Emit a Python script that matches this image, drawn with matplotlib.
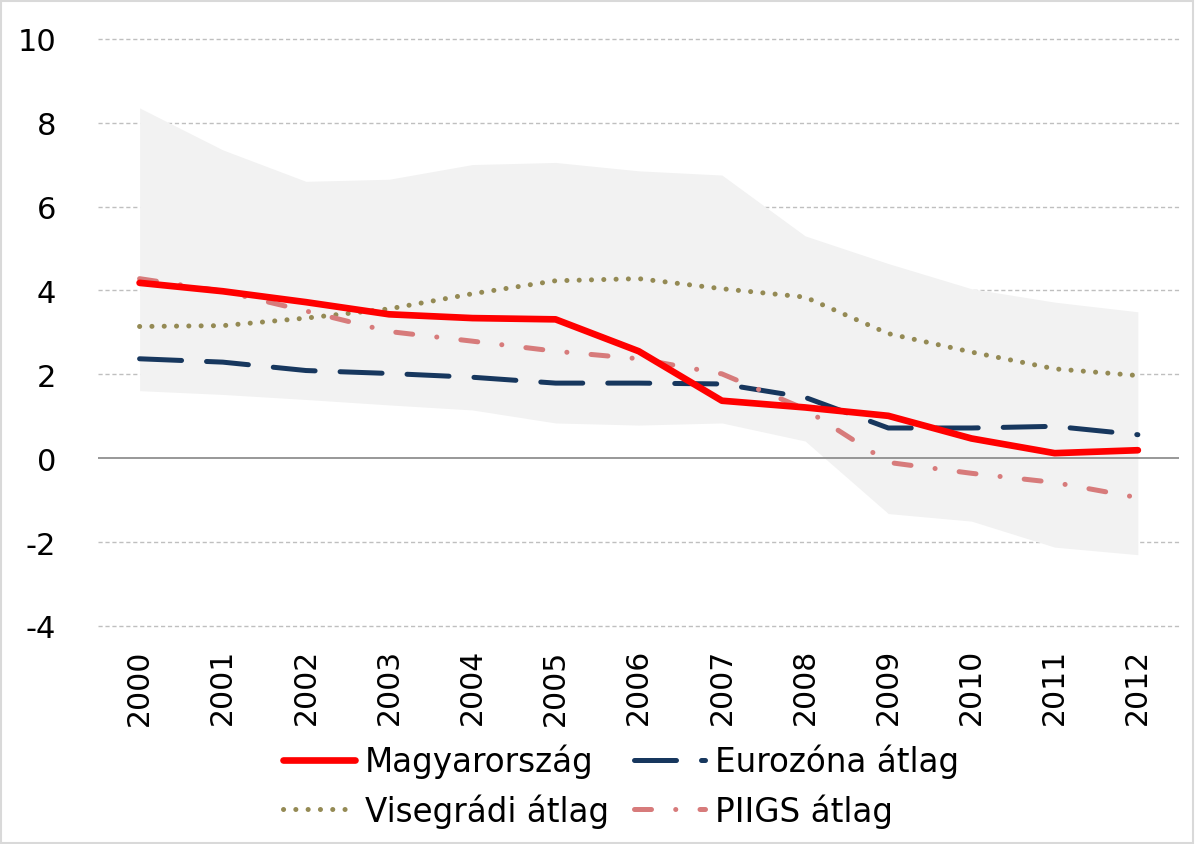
import matplotlib
matplotlib.use("Agg")
import matplotlib.pyplot as plt
from matplotlib.patches import Rectangle

plt.rcParams['font.family'] = ['DejaVu Sans']

years = ["2000", "2001", "2002", "2003", "2004", "2005", "2006",
         "2007", "2008", "2009", "2010", "2011", "2012"]
magyarorszag = [4.18, 3.98, 3.72, 3.43, 3.34, 3.31, 2.55, 1.37, 1.21, 1.01, 0.47, 0.12, 0.19]
eurozona = [2.37, 2.29, 2.09, 2.02, 1.93, 1.79, 1.79, 1.77, 1.45, 0.72, 0.72, 0.76, 0.56]
visegradi = [3.14, 3.16, 3.34, 3.56, 3.92, 4.23, 4.28, 4.04, 3.84, 2.97, 2.53, 2.13, 1.97]
piigs = [4.28, 3.98, 3.51, 3.02, 2.79, 2.55, 2.37, 2.01, 1.17, -0.10, -0.36, -0.58, -0.94]
band_upper = [8.35, 7.35, 6.60, 6.65, 7.00, 7.05, 6.85, 6.75, 5.30, 4.64, 4.04, 3.72, 3.49]
band_lower = [1.61, 1.52, 1.40, 1.27, 1.15, 0.84, 0.79, 0.84, 0.41, -1.32, -1.50, -2.12, -2.30]
yticks = [-4, -2, 0, 2, 4, 6, 8, 10]

fig = plt.figure(figsize=(11.95, 8.45), dpi=100)
ax = fig.add_axes([0.082, 0.258, 0.905, 0.695])
x = list(range(len(years)))

ax.fill_between(x, band_lower, band_upper, color="#F2F2F2", lw=0, zorder=1)
for t in yticks:
    if t != 0:
        ax.axhline(t, color="#BFBFBF", lw=1.0, ls=(0, (3, 2)), zorder=0.5, clip_on=False)
ax.axhline(0, color="#868686", lw=1.2, zorder=1.5)

l_mag, = ax.plot(x, magyarorszag, color="#FF0000", lw=4.8, solid_capstyle="round",
                 label="Magyarország", zorder=4)
l_eur, = ax.plot(x, eurozona, color="#17375E", lw=3.6, ls=(0, (8.4, 5.0)),
                 dash_capstyle="round", label="Eurozóna átlag", zorder=3)
l_vis, = ax.plot(x, visegradi, color="#948A54", lw=3.6, ls=(0, (0.02, 2.44)),
                 dash_capstyle="round", label="Visegrádi átlag", zorder=3)
l_pii, = ax.plot(x, piigs, color="#D77B7B", lw=3.6, ls=(0, (3.4, 4.84, 0.02, 4.84)),
                 dash_capstyle="round", label="PIIGS átlag", zorder=3)

ax.set_xlim(-0.5, 12.5)
ax.set_ylim(-4, 10)
ax.set_yticks(yticks)
ax.set_yticklabels([str(t) for t in yticks], fontsize=22)
ax.set_xticks(x)
ax.set_xticklabels(years, rotation=90, fontsize=21.5)
ax.tick_params(length=0)
ax.tick_params(axis="y", pad=30)
ax.tick_params(axis="x", pad=16)
for s in ax.spines.values():
    s.set_visible(False)

hs = [l_mag, l_vis, l_eur, l_pii]
fig.legend(hs, [h.get_label() for h in hs], ncol=2,
           loc="center", bbox_to_anchor=(0.52, 0.069), frameon=False,
           fontsize=23.5, handlelength=2.2, handletextpad=0.3,
           columnspacing=0.75, labelspacing=0.45)

fig.patches.append(Rectangle((0.001, 0.001), 0.997, 0.997, transform=fig.transFigure,
                             fill=False, edgecolor="#D9D9D9", lw=1.5))
fig.savefig("out.png", dpi=100)
